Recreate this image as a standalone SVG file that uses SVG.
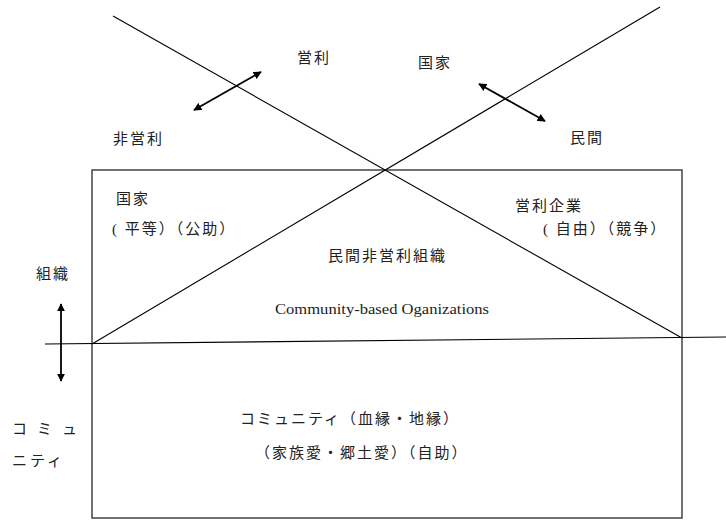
<svg xmlns="http://www.w3.org/2000/svg" width="726" height="520" viewBox="0 0 726 520">
<style>
.t{font-family:"Liberation Serif","Noto Sans CJK JP",serif;font-size:15px;fill:#222;letter-spacing:2px}
.e{font-family:"Liberation Serif",serif;font-size:15px;fill:#222}
.ln{stroke:#000;stroke-width:1.1;fill:none}
.ar{stroke:#000;stroke-width:1.8;fill:none;marker-start:url(#ah);marker-end:url(#ah)}
</style>
<defs>
<marker id="ah" viewBox="0 0 10 10" refX="9" refY="5" markerWidth="4.5" markerHeight="4.5" orient="auto-start-reverse" markerUnits="strokeWidth">
<path d="M0,0 L10,5 L0,10 z" fill="#000"/>
</marker>
</defs>
<g id="box"><rect x="92" y="170" width="590" height="348" fill="none" stroke="#444" stroke-width="1.5"/></g>
<g id="connectors">
<line class="ln" x1="113" y1="16" x2="682" y2="338"/>
<line class="ln" x1="92" y1="344" x2="660" y2="7"/>
<line class="ln" x1="45" y1="344" x2="726" y2="337"/>
<line class="ar" x1="194" y1="110" x2="261" y2="72"/>
<line class="ar" x1="479" y1="84" x2="545" y2="121"/>
<line class="ar" x1="61" y1="304" x2="61" y2="381"/>
</g>
<g id="n-eiri"><text class="t" x="297" y="63">営利</text></g>
<g id="n-kokka-top"><text class="t" x="418" y="68">国家</text></g>
<g id="n-hieiri"><text class="t" x="113" y="144">非営利</text></g>
<g id="n-minkan"><text class="t" x="570" y="143">民間</text></g>
<g id="n-kokka"><text class="t" x="116" y="204">国家</text><text class="t" x="112" y="234">( 平等）（公助）</text></g>
<g id="n-soshiki"><text class="t" x="36" y="279">組織</text></g>
<g id="n-kigyo"><text class="t" x="515" y="211">営利企業</text><text class="t" x="543" y="234">( 自由）（競争）</text></g>
<g id="n-npo"><text class="t" x="328" y="261">民間非営利組織</text><text class="e" x="275" y="314" textLength="214" lengthAdjust="spacingAndGlyphs">Community-based Oganizations</text></g>
<g id="n-community"><text class="t" x="240" y="424">コミュニティ（血縁・地縁）</text><text class="t" x="255" y="458">（家族愛・郷土愛）（自助）</text></g>
<g id="n-community-left"><text class="t" x="12" y="434" style="letter-spacing:10px">コミュ</text><text class="t" x="12" y="466" style="letter-spacing:3px">ニティ</text></g>
</svg>
